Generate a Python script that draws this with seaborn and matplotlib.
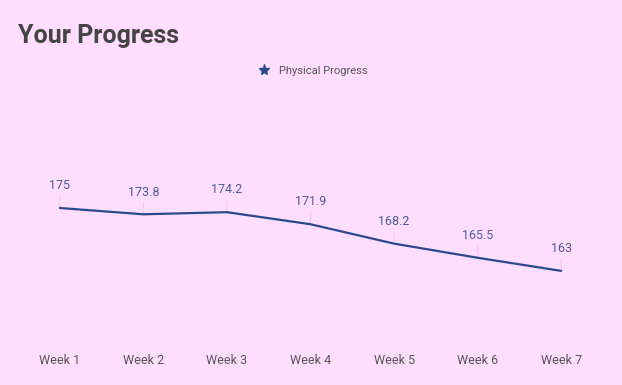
import matplotlib
matplotlib.use("Agg")
import matplotlib.pyplot as plt
import seaborn as sns
import pandas as pd
from matplotlib.lines import Line2D

weeks = ["Week 1", "Week 2", "Week 3", "Week 4", "Week 5", "Week 6", "Week 7"]
values = [175, 173.8, 174.2, 171.9, 168.2, 165.5, 163]
series_name = "Physical Progress"

bg = "#FEDDFE"
line_color = "#2B4A8E"
label_color = "#4A5B9C"

sns.set_theme(style="white")
plt.rcParams["font.family"] = ["Roboto", "DejaVu Sans"]

fig = plt.figure(figsize=(6.22, 3.85), dpi=100, facecolor=bg)
ax = fig.add_axes([18/622, 46/385, 585/622, 262/385])
ax.set_facecolor(bg)

df = pd.DataFrame({"week": weeks, "value": values})
df["pos"] = range(len(weeks))
sns.lineplot(data=df, x="pos", y="value", ax=ax, color=line_color, linewidth=1.6, sort=False, zorder=3)

for x, y in zip(df["pos"], df["value"]):
    ax.annotate("", xy=(x, y), xytext=(0, 8.5), textcoords="offset points",
                arrowprops=dict(arrowstyle="-", color="#F8C4E2", lw=0.8,
                                shrinkA=0, shrinkB=0), zorder=2)
    ax.annotate(f"{y:g}", xy=(x, y), xytext=(0, 13.5), textcoords="offset points",
                ha="center", va="baseline", fontsize=9, color=label_color)

ax.set_xlim(-0.5, len(weeks) - 0.5)
ax.set_ylim(150, 200)
ax.set_xticks(range(len(weeks)))
ax.set_xticklabels(weeks, fontsize=9, color="#555555")
ax.tick_params(axis="x", length=0, pad=11)
ax.set_yticks([])
ax.set_xlabel("")
ax.set_ylabel("")
for s in ax.spines.values():
    s.set_visible(False)

fig.text(18/622, 1 - 36/385, "Your Progress", fontsize=18, fontweight="bold",
         color="#444444", va="center", ha="left")

handle = Line2D([], [], linestyle="none", marker="*", markersize=8,
                color=line_color, label=series_name)
fig.legend(handles=[handle], loc="center", bbox_to_anchor=(313/622, 1 - 71/385),
           frameon=False, fontsize=8, labelcolor="#555555", handletextpad=0.8,
           handlelength=1.0)

fig.savefig("out.png", dpi=100, facecolor=bg)
